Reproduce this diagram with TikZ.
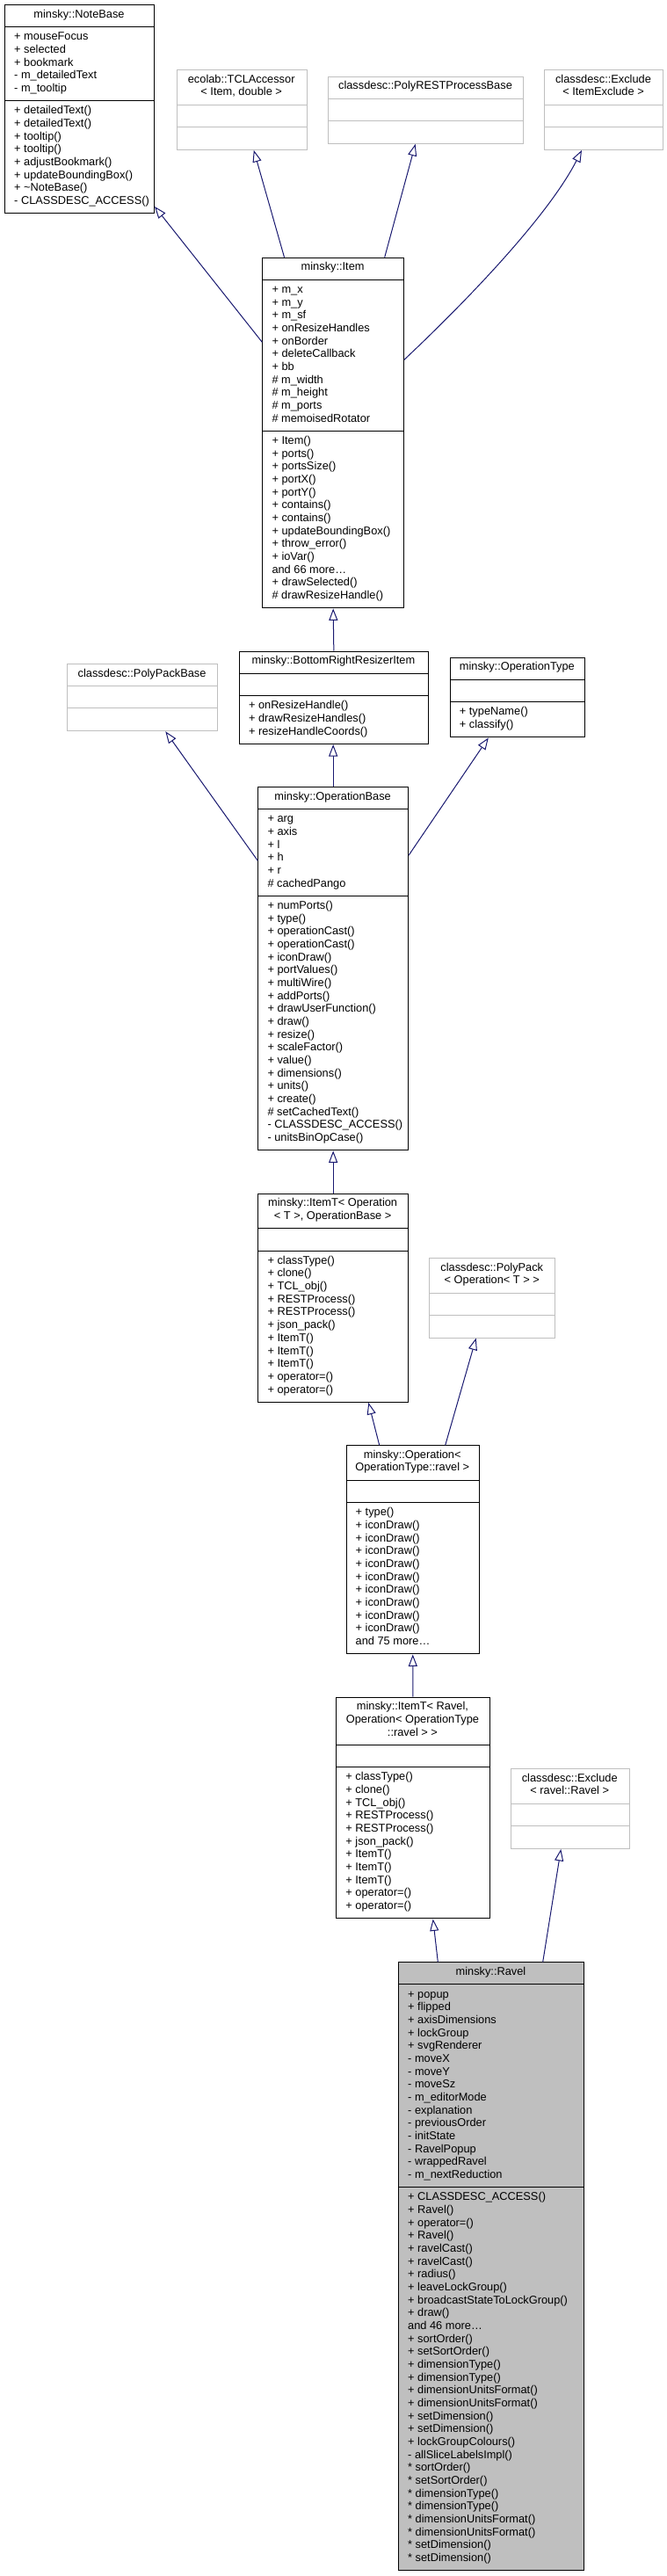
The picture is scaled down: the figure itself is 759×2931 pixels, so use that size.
\documentclass[tikz,border=0pt]{standalone}
\usepackage{fontspec}
\setmainfont{Liberation Sans}
\usetikzlibrary{arrows.meta}
\definecolor{edgeblue}{HTML}{191970}
\definecolor{grayline}{HTML}{BFBFBF}
\definecolor{ravelfill}{HTML}{BFBFBF}
\newcommand\clsLines[4]{%
  \foreach \t [count=\i from 0] in {#4}{%
    \node[txt] (#1-\i) at (#2,{#3+\i*14.67}) {\t};}}
\newcommand\clsTitle[4]{%
  \foreach \t [count=\i from 0] in {#4}{%
    \node[ttl] (#1-\i) at (#2,{#3+\i*14.67}) {\t};}}
\newcommand\clsBox[8]{%
  \pgfmathsetmacro\clsW{#4-#2}%
  \pgfmathsetmacro\clsH{#6+#7+#8}%
  \pgfmathsetmacro\clsD{#6+#7}%
  \node[#5, minimum width=\clsW pt, minimum height=\clsH pt, anchor=north west] (#1) at (#2,#3) {};
  \draw[#5div] ([yshift=-#6 pt]#1.north west) -- ([yshift=-#6 pt]#1.north east);
  \draw[#5div] ([yshift=-\clsD pt]#1.north west) -- ([yshift=-\clsD pt]#1.north east);
}
\begin{document}
\begin{tikzpicture}[x=1pt,y=-1pt,
  blk/.style={draw=black, line width=1pt, fill=white, inner sep=0pt},
  gry/.style={draw=grayline, line width=1pt, fill=white, inner sep=0pt},
  rav/.style={draw=black, line width=1pt, fill=ravelfill, inner sep=0pt},
  blkdiv/.style={draw=black, line width=1pt},
  grydiv/.style={draw=grayline, line width=1pt},
  ravdiv/.style={draw=black, line width=1pt},
  txt/.style={anchor=base west, inner sep=0pt, font=\fontsize{12.8}{14.67}\selectfont},
  ttl/.style={anchor=base, inner sep=0pt, font=\fontsize{12.8}{14.67}\selectfont},
  inh/.style={draw=edgeblue, line width=1pt, -{Triangle[length=13.5pt,width=10pt,fill=white]}}
  ]
\useasboundingbox[fill=white] (0,0) rectangle (759,2931);

% NoteBase
\clsBox{nb}{5}{5}{175}{blk}{25.6}{83.85}{127.86}
\clsTitle{nb-t}{90}{20}{minsky::NoteBase}
\clsLines{nb-a}{16}{45.9}{+ mouseFocus, + selected, + bookmark, - m\_detailedText, - m\_tooltip}
\clsLines{nb-m}{16}{129.75}{+ detailedText(), + detailedText(), + tooltip(), + tooltip(), + adjustBookmark(), + updateBoundingBox(), + \textasciitilde NoteBase(), - CLASSDESC\_ACCESS()}

% TCLAccessor
\clsBox{tcl}{200.7}{79.3}{348.7}{gry}{40}{25.3}{25.3}
\clsTitle{tcl-t}{274.7}{94.3}{ecolab::TCLAccessor, {< Item, double >}}

% PolyRESTProcessBase
\clsBox{prest}{372.7}{86.7}{595.3}{gry}{25.6}{25.3}{25.3}
\clsTitle{prest-t}{484}{101.7}{classdesc::PolyRESTProcessBase}

% Exclude<ItemExclude>
\clsBox{exi}{619}{79.3}{754}{gry}{40}{25.3}{25.3}
\clsTitle{exi-t}{686.5}{94.3}{classdesc::Exclude, < ItemExclude >}

% Item
\clsBox{item}{298.3}{292.7}{459}{blk}{25.6}{171.87}{201.21}
\clsTitle{item-t}{378.65}{307.7}{minsky::Item}
\clsLines{item-a}{309.3}{333.6}{+ m\_x, + m\_y, + m\_sf, + onResizeHandles, + onBorder, + deleteCallback, + bb, \# m\_width, \# m\_height, \# m\_ports, \# memoisedRotator}
\clsLines{item-m}{309.3}{505.47}{+ Item(), + ports(), + portsSize(), + portX(), + portY(), + contains(), + contains(), + updateBoundingBox(), + throw\_error(), + ioVar(), and 66 more\ldots, + drawSelected(), \# drawResizeHandle()}

% PolyPackBase
\clsBox{ppb}{76.2}{755}{247}{gry}{25.6}{25.3}{25.3}
\clsTitle{ppb-t}{161.6}{770}{classdesc::PolyPackBase}

% BottomRightResizerItem
\clsBox{brri}{271.8}{740.6}{486.9}{blk}{25.6}{25.3}{54.51}
\clsTitle{brri-t}{379.35}{755.6}{minsky::BottomRightResizerItem}
\clsLines{brri-m}{282.8}{806.8}{+ onResizeHandle(), + drawResizeHandles(), + resizeHandleCoords()}

% OperationType
\clsBox{ot}{511.7}{747.7}{665}{blk}{25.6}{25.3}{39.84}
\clsTitle{ot-t}{588.35}{762.7}{minsky::OperationType}
\clsLines{ot-m}{522.7}{813.9}{+ typeName(), + classify()}

% OperationBase
\clsBox{ob}{293.3}{895}{464}{blk}{25.6}{98.52}{289.23}
\clsTitle{ob-t}{378.65}{910}{minsky::OperationBase}
\clsLines{ob-a}{304.3}{935.9}{+ arg, + axis, + l, + h, + r, \# cachedPango}
\clsLines{ob-m}{304.3}{1034.42}{+ numPorts(), + type(), + operationCast(), + operationCast(), + iconDraw(), + portValues(), + multiWire(), + addPorts(), + drawUserFunction(), + draw(), + resize(), + scaleFactor(), + value(), + dimensions(), + units(), + create(), \# setCachedText(), - CLASSDESC\_ACCESS(), - unitsBinOpCase()}

% ItemT<Operation<T>, OperationBase>
\clsBox{ito}{293.3}{1357.7}{464}{blk}{40}{25.3}{171.87}
\clsTitle{ito-t}{378.65}{1372.7}{minsky::ItemT< Operation, {< T >, OperationBase >}}
\clsLines{ito-m}{304.3}{1438.3}{+ classType(), + clone(), + TCL\_obj(), + RESTProcess(), + RESTProcess(), + json\_pack(), + ItemT(), + ItemT(), + ItemT(), + operator=(), + operator=()}

% PolyPack<Operation<T>>
\clsBox{pp}{488.3}{1431}{631.3}{gry}{40}{25.3}{25.3}
\clsTitle{pp-t}{559.8}{1446}{classdesc::PolyPack, < Operation< T > >}

% Operation<OperationType::ravel>
\clsBox{op}{393.5}{1644.3}{545}{blk}{40}{25.3}{171.87}
\clsTitle{op-t}{469.25}{1659.3}{minsky::Operation<, OperationType::ravel >}
\clsLines{op-m}{404.5}{1724.9}{+ type(), + iconDraw(), + iconDraw(), + iconDraw(), + iconDraw(), + iconDraw(), + iconDraw(), + iconDraw(), + iconDraw(), + iconDraw(), and 75 more\ldots}

% ItemT<Ravel, Operation<OperationType::ravel>>
\clsBox{itr}{382.2}{1930.7}{556.7}{blk}{54.6}{25.3}{171.87}
\clsTitle{itr-t}{469.45}{1945.7}{{minsky::ItemT< Ravel,}, Operation< OperationType, ::ravel > >}
\clsLines{itr-m}{393.2}{2025.9}{+ classType(), + clone(), + TCL\_obj(), + RESTProcess(), + RESTProcess(), + json\_pack(), + ItemT(), + ItemT(), + ItemT(), + operator=(), + operator=()}

% Exclude<ravel::Ravel>
\clsBox{exr}{580.7}{2012.3}{715.7}{gry}{40}{25.3}{25.3}
\clsTitle{exr-t}{648.2}{2027.3}{classdesc::Exclude, < ravel::Ravel >}

% Ravel
\clsBox{rav}{453}{2232.3}{664}{rav}{25.6}{230.55}{435.93}
\clsTitle{rav-t}{558.5}{2247.3}{minsky::Ravel}
\clsLines{rav-a}{464}{2273.2}{+ popup, + flipped, + axisDimensions, + lockGroup, + svgRenderer, - moveX, - moveY, - moveSz, - m\_editorMode, - explanation, - previousOrder, - initState, - RavelPopup, - wrappedRavel, - m\_nextReduction}
\clsLines{rav-m}{464}{2503.75}{+ CLASSDESC\_ACCESS(), + Ravel(), + operator=(), + Ravel(), + ravelCast(), + ravelCast(), + radius(), + leaveLockGroup(), + broadcastStateToLockGroup(), + draw(), and 46 more\ldots, + sortOrder(), + setSortOrder(), + dimensionType(), + dimensionType(), + dimensionUnitsFormat(), + dimensionUnitsFormat(), + setDimension(), + setDimension(), + lockGroupColours(), - allSliceLabelsImpl(), * sortOrder(), * setSortOrder(), * dimensionType(), * dimensionType(), * dimensionUnitsFormat(), * dimensionUnitsFormat(), * setDimension(), * setDimension()}

% Inheritance connectors
\draw[inh] ([yshift=-96.6pt]item.north west) -- ([yshift=8.3pt]nb.south east);
\draw[inh] ([xshift=25.2pt]item.north west) -- ([xshift=88.1pt]tcl.south west);
\draw[inh] ([xshift=139.4pt]item.north west) -- ([xshift=100pt]prest.south west);
\draw[inh] ([yshift=-116.6pt]item.north east) .. controls (564.6,310.4) and (631.7,230.6) .. ([xshift=43pt]exi.south west);
\draw[inh] (brri.north) -- (item.south);
\draw[inh] ([yshift=-84.3pt]ob.north west) -- ([xshift=112.1pt]ppb.south west);
\draw[inh] (ob.north) -- (ob.north |- brri.south);
\draw[inh] ([yshift=-78.3pt]ob.north east) -- ([xshift=44.1pt]ot.south west);
\draw[inh] (ito.north) -- (ob.south);
\draw[inh] ([xshift=38.2pt]op.north west) -- ([xshift=126pt]ito.south west);
\draw[inh] ([xshift=113.2pt]op.north west) -- ([xshift=53.4pt]pp.south west);
\draw[inh] (itr.north) -- (op.south);
\draw[inh] ([xshift=45.3pt]rav.north west) -- ([xshift=110.5pt]itr.south west);
\draw[inh] ([xshift=164.7pt]rav.north west) -- ([xshift=57.6pt]exr.south west);
\end{tikzpicture}
\end{document}
